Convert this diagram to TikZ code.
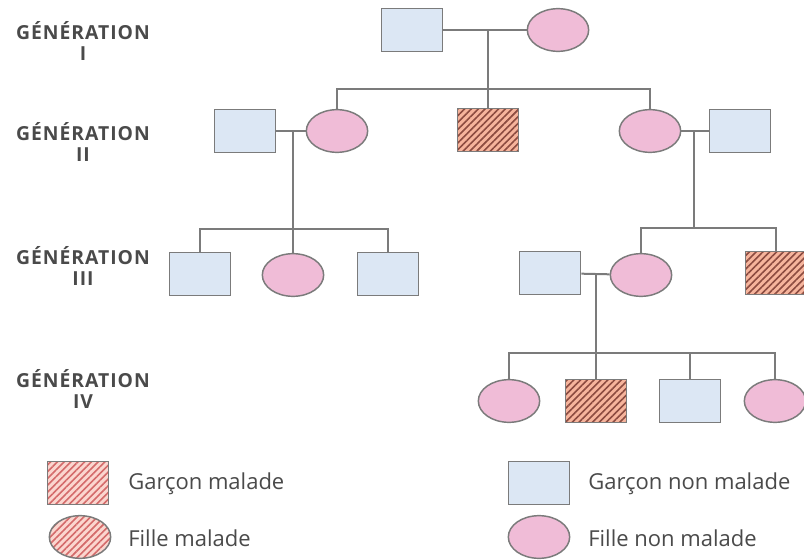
\documentclass[tikz,border=0pt]{standalone}
\usepackage{fontspec}
\setmainfont{Open Sans}
\usetikzlibrary{shapes.geometric,patterns.meta}
\definecolor{boyblue}{HTML}{DCE7F4}
\definecolor{girlpink}{HTML}{F0BCD7}
\definecolor{edgegrey}{HTML}{7B7B7B}
\definecolor{hatchlight}{HTML}{F6B49C}
\definecolor{hatchdark}{HTML}{8C4B40}
\definecolor{legendlight}{HTML}{FBD6CF}
\definecolor{legenddark}{HTML}{D46A6A}
\definecolor{txtgrey}{HTML}{4A4A4A}
\tikzset{
  person/.style={draw=edgegrey, line width=1.1pt, minimum width=46pt, minimum height=32pt, inner sep=0pt},
  boy/.style={person, rectangle, fill=boyblue},
  girl/.style={person, ellipse, fill=girlpink},
  sickboy/.style={person, rectangle, preaction={fill=hatchlight},
    pattern={Lines[angle=45,distance=3.6pt,line width=1.2pt]}, pattern color=hatchdark},
  legsickboy/.style={person, rectangle, preaction={fill=legendlight},
    pattern={Lines[angle=45,distance=3.6pt,line width=1.2pt]}, pattern color=legenddark},
  legsickgirl/.style={person, ellipse, preaction={fill=legendlight},
    pattern={Lines[angle=45,distance=3.6pt,line width=1.2pt]}, pattern color=legenddark},
  link/.style={draw=edgegrey, line width=1.5pt},
  genlabel/.style={align=center, font=\bfseries\fontsize{14.5}{16}\selectfont\addfontfeature{LetterSpace=5}, text=txtgrey},
  legtext/.style={anchor=west, inner sep=0pt, font=\fontsize{16.5}{18}\selectfont, text=txtgrey}
}
\begin{document}
\begin{tikzpicture}[x=0.75pt,y=-0.75pt]
\useasboundingbox (0,0) rectangle (804,560);
\fill[white] (0,0) rectangle (804,560);

% generation labels
\node[genlabel] (g1) at (83,41) {GÉNÉRATION\\I};
\node[genlabel] (g2) at (83,142) {GÉNÉRATION\\II};
\node[genlabel] (g3) at (83,266) {GÉNÉRATION\\III};
\node[genlabel] (g4) at (83,389) {GÉNÉRATION\\IV};

% generation I
\node[boy]  (m1) at (412,30) {};
\node[girl] (f1) at (558,30) {};
% generation II
\node[boy]     (a) at (245,131) {};
\node[girl]    (b) at (337,131) {};
\node[sickboy] (c) at (488,130) {};
\node[girl]    (d) at (650,131) {};
\node[boy]     (e) at (740,131) {};
% generation III
\node[boy]  (l1) at (200,274) {};
\node[girl] (l2) at (293,275) {};
\node[boy]  (l3) at (388,274) {};
\node[boy]     (g) at (550,273) {};
\node[girl]    (h) at (641,275) {};
\node[sickboy] (i) at (776,273) {};
% generation IV
\node[girl]    (k1) at (509,401) {};
\node[sickboy] (k2) at (596,401) {};
\node[boy]     (k3) at (690,401) {};
\node[girl]    (k4) at (775,401) {};

% junction coordinates
\coordinate (j1) at (488,30);  \coordinate (s1) at (488,89);
\coordinate (j2) at (293,131); \coordinate (s2) at (293,229);
\coordinate (j3) at (694,131); \coordinate (s3) at (694,228);
\coordinate (j4) at (596,275); \coordinate (s4) at (596,353);

% connectors
\draw[link] (m1) -- (f1);
\draw[link] (j1) -- (c.north);
\draw[link] (b.north) |- (s1) -| (d.north);

\draw[link] (a) -- (b);
\draw[link] (j2) -- (l2.north);
\draw[link] (l1.north) |- (s2) -| (l3.north);

\draw[link] (d) -- (e);
\draw[link] (j3) -- (s3);
\draw[link] (h.north) |- (s3) -| (i.north);

\draw[link] (g) -- (h);
\draw[link] (j4) -- (k2.north);
\draw[link] (k1.north) |- (s4) -| (k4.north);
\draw[link] (k3.north) -- (k3.north |- s4);

% legend
\node[legsickboy]  (ls1) at (78,483) {};
\node[legtext] (lt1) at (128,484) {Garçon malade};
\node[legsickgirl] (ls2) at (80,537) {};
\node[legtext] (lt2) at (128,538) {Fille malade};
\node[boy]  (lb) at (539,483) {};
\node[legtext] (lt3) at (588,484) {Garçon non malade};
\node[girl] (lg) at (539,537) {};
\node[legtext] (lt4) at (588,538) {Fille non malade};
\end{tikzpicture}
\end{document}
